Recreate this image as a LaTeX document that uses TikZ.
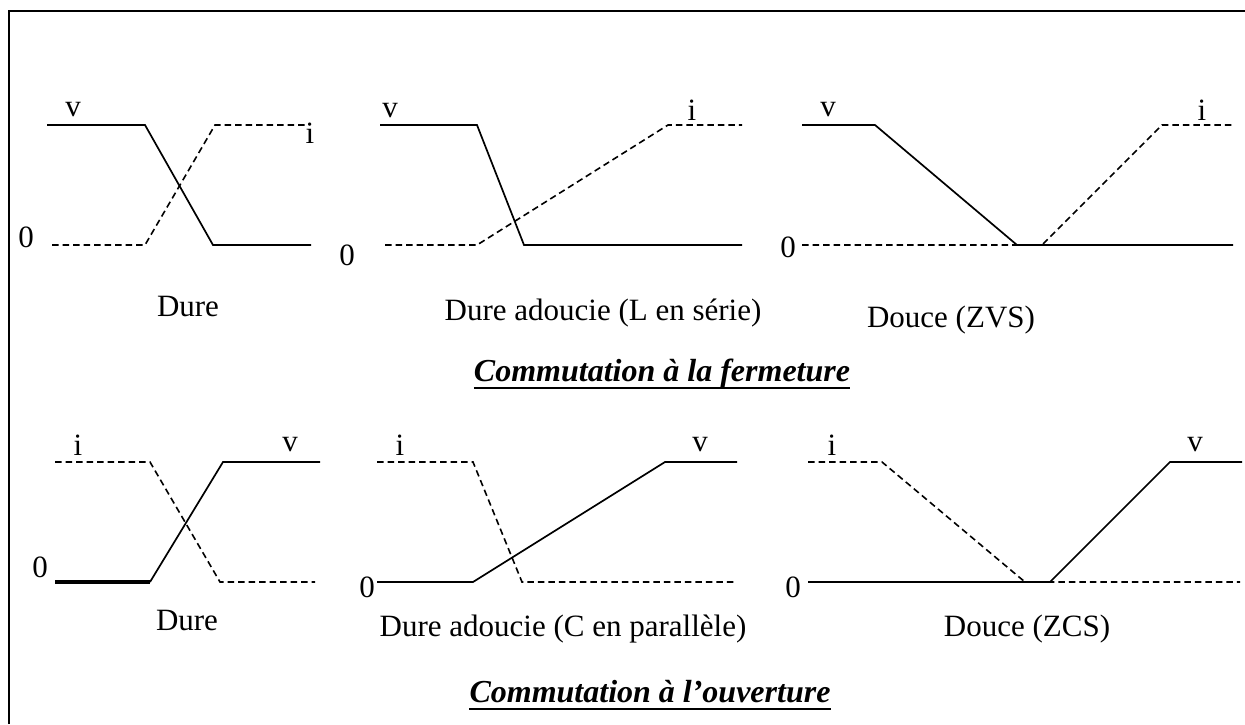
\documentclass[tikz,border=0pt]{standalone}
\usepackage{fontspec}
\setmainfont{Liberation Serif}
\usetikzlibrary{positioning}
\tikzset{
  vwave/.style={line width=1.7pt, line join=miter},
  iwave/.style={line width=1.6pt, dash pattern=on 6.5pt off 4pt},
  sig/.style={font=\fontsize{31}{31}\selectfont, inner sep=0pt},
  caption/.style={font=\fontsize{31}{31}\selectfont, inner sep=0pt, anchor=base},
  heading/.style={font=\fontsize{32}{32}\selectfont\bfseries\itshape, inner sep=0pt, anchor=base},
  rule/.style={line width=2.6pt}
}

\begin{document}
\begin{tikzpicture}[x=1pt, y=-1pt]
  \useasboundingbox (0,0) rectangle (1245,724);
  % cadre
  \draw[line width=2pt] (9,724) -- (9,11) -- (1245,11);

  % --- fermeture : dure
  \draw[vwave] (47,125) -- (145,125) -- (213,245) -- (311,245);
  \draw[iwave] (52,245) -- (145,245) -- (215,125) -- (308,125);
  \node[sig] (v1) at (73,110) {v};
  \node[sig] (i1) at (310,133) {i};
  \node[sig] (z1) at (26,237) {0};
  \node[caption] (c1) at (188,316) {Dure};

  % --- fermeture : dure adoucie
  \draw[vwave] (380,125) -- (477,125) -- (524,245) -- (742,245);
  \draw[iwave] (385,245) -- (477,245) -- (668,125) -- (742,125);
  \node[sig] (v2) at (390,111) {v};
  \node[sig] (i2) at (692,110) {i};
  \node[sig] (z2) at (347,255) {0};
  \node[caption] (c2) at (603,320) {Dure adoucie (L en série)};

  % --- fermeture : douce
  \draw[vwave] (802,125) -- (875,125) -- (1017,245) -- (1233,245);
  \draw[iwave] (802,245) -- (1042,245) -- (1162,125) -- (1233,125);
  \node[sig] (v3) at (828,110) {v};
  \node[sig] (i3) at (1202,110) {i};
  \node[sig] (z3) at (788,247) {0};
  \node[caption] (c3) at (951,327) {Douce (ZVS)};

  \node[heading] (t1) at (662,381) {Commutation à la fermeture};
  \draw[rule] ([yshift=-7pt]t1.base west) -- ([yshift=-7pt]t1.base east);

  % --- ouverture : dure
  \draw[iwave] (55,462) -- (150,462) -- (220,582) -- (315,582);
  \draw[line width=3.6pt] (55,582) -- (150,582);
  \draw[vwave] (150,582) -- (223,462) -- (320,462);
  \node[sig] (i4) at (78,445) {i};
  \node[sig] (v4) at (290,445) {v};
  \node[sig] (z4) at (40,567) {0};
  \node[caption] (c4) at (187,630) {Dure};

  % --- ouverture : dure adoucie
  \draw[iwave] (377,462) -- (473,462) -- (522,582) -- (735,582);
  \draw[vwave] (377,582) -- (473,582) -- (665,462) -- (737,462);
  \node[sig] (i5) at (400,445) {i};
  \node[sig] (v5) at (700,445) {v};
  \node[sig] (z5) at (367,587) {0};
  \node[caption] (c5) at (563,636) {Dure adoucie (C en parallèle)};

  % --- ouverture : douce
  \draw[iwave] (808,462) -- (882,462) -- (1025,582) -- (1240,582);
  \draw[vwave] (808,582) -- (1050,582) -- (1170,462) -- (1242,462);
  \node[sig] (i6) at (832,445) {i};
  \node[sig] (v6) at (1195,445) {v};
  \node[sig] (z6) at (793,587) {0};
  \node[caption] (c6) at (1027,636) {Douce (ZCS)};

  \node[heading] (t2) at (650,702) {Commutation à l’ouverture};
  \draw[rule] ([yshift=-7pt]t2.base west) -- ([yshift=-7pt]t2.base east);
\end{tikzpicture}
\end{document}
